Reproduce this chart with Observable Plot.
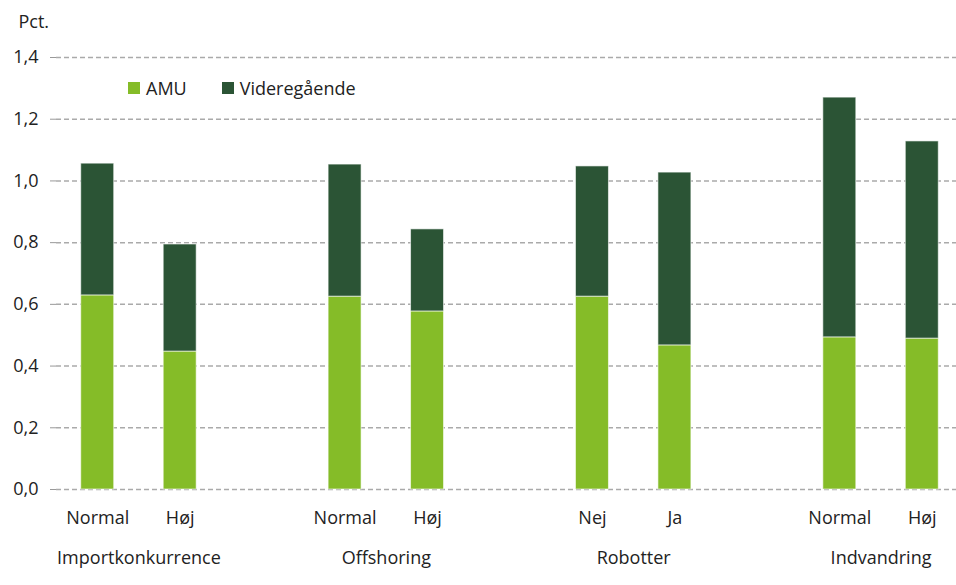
<!DOCTYPE html>
<html><head><meta charset="utf-8">
<script src="https://cdn.jsdelivr.net/npm/d3@7"></script>
<script src="https://cdn.jsdelivr.net/npm/@observablehq/plot@0.6"></script>
<style>
body{margin:0;background:#fff;font-family:"Open Sans",sans-serif;}
#wrap{position:relative;width:956px;height:585px;}
#legend{position:absolute;left:128px;top:76px;display:flex;font-size:18px;line-height:24px;color:#222;}
#legend .item{display:flex;align-items:center;margin-right:35px;}
#legend .sw{width:12px;height:12px;margin-right:6px;}
</style></head><body><div id="wrap"><div id="legend"></div></div>
<script>
const groups = ["Importkonkurrence", "Offshoring", "Robotter", "Indvandring"];
const subLabels = [["Normal", "Høj"], ["Normal", "Høj"], ["Nej", "Ja"], ["Normal", "Høj"]];
const seriesNames = ["AMU", "Videregående"];
const seriesColors = ["#85bc28", "#2b5435"];
const amu = [0.629, 0.447, 0.625, 0.577, 0.625, 0.467, 0.493, 0.489];
const videregaaende = [0.427, 0.347, 0.428, 0.266, 0.422, 0.560, 0.777, 0.639];
const yTicks = [0, 0.2, 0.4, 0.6, 0.8, 1.0, 1.2, 1.4];

// build table
const rows = [];
const barKeys = [];
const domain = [];
groups.forEach((g, gi) => {
  subLabels[gi].forEach((s, si) => {
    const key = g + "|" + s;
    barKeys.push(key);
    domain.push(key);
  });
  if (gi < groups.length - 1) domain.push("gap" + gi);
});
barKeys.forEach((key, i) => {
  rows.push({key, series: seriesNames[0], value: amu[i]});
});
barKeys.forEach((key, i) => {
  rows.push({key, series: seriesNames[1], value: videregaaende[i]});
});
const groupRows = groups.map((g, gi) => ({name: g, first: g + "|" + subLabels[gi][0]}));

const width = 956, height = 585, marginLeft = 56, marginTop = 57, marginBottom = 96;
const xRange = [56, 963];
const pIn = 0.6, pOut = 0.3;
const step = (xRange[1] - xRange[0]) / (domain.length - pIn + 2 * pOut);
const fmt = d => d3.format(".1f")(d).replace(".", ",");

const chart = Plot.plot({
  width, height, marginLeft, marginRight: 0, marginTop, marginBottom,
  style: {fontFamily: "Open Sans, sans-serif", fontSize: "18px", color: "#222", background: "white"},
  x: {domain, range: xRange, paddingInner: pIn, paddingOuter: pOut, round: false, axis: null},
  y: {domain: [0, 1.4], axis: null},
  color: {domain: seriesNames, range: seriesColors},
  marks: [
    Plot.ruleY(yTicks, {stroke: "#aaa", strokeWidth: 1.5, strokeDasharray: "5,3"}),
    Plot.barY(rows, {x: "key", y: "value", fill: "series", stroke: "white", strokeOpacity: 0.6, strokeWidth: 1}),
    Plot.axisY({ticks: yTicks, tickFormat: fmt, tickSize: 6, tickPadding: 12, stroke: "#999", line: true, label: null, fontSize: 18}),
    Plot.axisX({ticks: barKeys, tickFormat: d => d.split("|")[1], tickSize: 0, tickPadding: 22, label: null, fontSize: 18}),
    Plot.text(groupRows, {x: "first", text: "name", frameAnchor: "bottom", lineAnchor: "top", dy: 62, dx: step / 2, fontSize: 18, fill: "#222"}),
    Plot.text(["Pct."], {frameAnchor: "top-left", textAnchor: "start", lineAnchor: "top", dx: -38, dy: -42, fontSize: 18, fill: "#222"})
  ]
});
document.getElementById("wrap").prepend(chart);

const legend = document.getElementById("legend");
seriesNames.forEach((n, i) => {
  const it = document.createElement("div");
  it.className = "item";
  const sw = document.createElement("span");
  sw.className = "sw";
  sw.style.background = seriesColors[i];
  const t = document.createElement("span");
  t.textContent = n;
  it.append(sw, t);
  legend.append(it);
});
</script></body></html>
